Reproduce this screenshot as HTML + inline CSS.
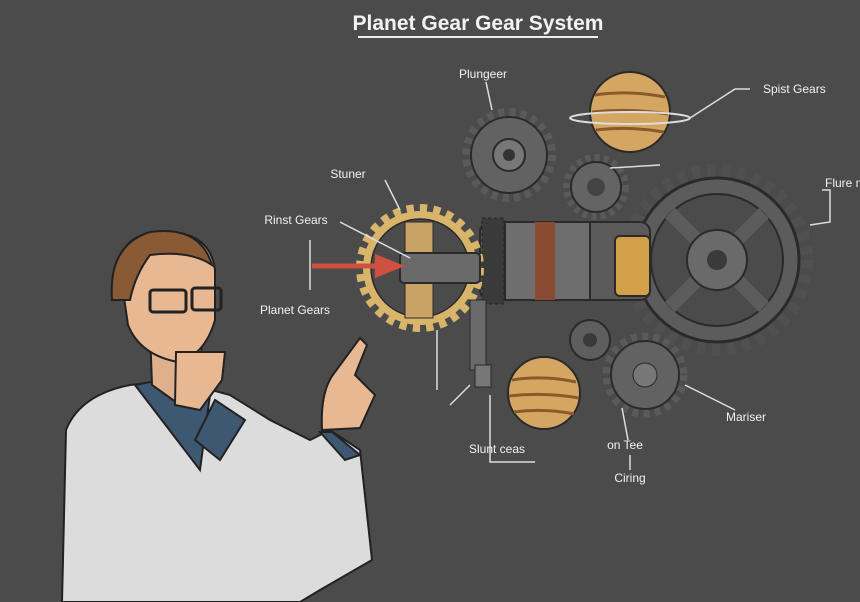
<!DOCTYPE html>
<html><head><meta charset="utf-8"><style>
html,body{margin:0;padding:0;background:#4b4b4b;}
svg{display:block}
text{font-family:"Liberation Sans",sans-serif;fill:#f2f2f2}
</style></head><body>
<svg width="860" height="602" viewBox="0 0 860 602" xmlns="http://www.w3.org/2000/svg">
<rect width="860" height="602" fill="#4b4b4b"/>
<text x="478" y="30" font-size="21" text-anchor="middle" font-weight="bold">Planet Gear Gear System</text>
<line x1="358" y1="37" x2="598" y2="37" stroke="#eee" stroke-width="2"/>

<!-- big gear right -->
<circle cx="717" cy="260" r="88" fill="none" stroke="#505050" stroke-width="16" stroke-dasharray="8 7"/>
<circle cx="717" cy="260" r="82" fill="#5c5c5c" stroke="#2a2a2a" stroke-width="3"/>
<circle cx="717" cy="260" r="66" fill="#4b4b4b" stroke="#2a2a2a" stroke-width="2"/>
<g stroke="#5c5c5c" stroke-width="14"><line x1="670" y1="213" x2="764" y2="307"/><line x1="764" y1="213" x2="670" y2="307"/></g>
<circle cx="717" cy="260" r="30" fill="#6a6a6a" stroke="#2a2a2a" stroke-width="2"/>
<circle cx="717" cy="260" r="10" fill="#3a3a3a"/>

<!-- top gear -->
<circle cx="509" cy="155" r="42" fill="none" stroke="#5a5a5a" stroke-width="10" stroke-dasharray="6 5"/>
<circle cx="509" cy="155" r="38" fill="#626262" stroke="#2a2a2a" stroke-width="2"/>
<circle cx="509" cy="155" r="16" fill="#777" stroke="#2a2a2a" stroke-width="2"/>
<circle cx="509" cy="155" r="6" fill="#333"/>
<!-- small gear -->
<circle cx="596" cy="187" r="29" fill="none" stroke="#5a5a5a" stroke-width="8" stroke-dasharray="5 4"/>
<circle cx="596" cy="187" r="25" fill="#646464" stroke="#2a2a2a" stroke-width="2"/>
<circle cx="596" cy="187" r="9" fill="#444"/>

<!-- planet top -->
<circle cx="630" cy="112" r="40" fill="#d5a662" stroke="#2a2a2a" stroke-width="2"/>
<g stroke="#8a5a2a" stroke-width="3" fill="none"><path d="M595 95 Q630 90 665 97"/><path d="M592 112 Q630 108 668 114"/><path d="M596 130 Q630 126 664 132"/></g>
<ellipse cx="630" cy="118" rx="60" ry="6" fill="none" stroke="#ddd" stroke-width="2"/>

<!-- cylinder -->
<rect x="480" y="222" width="170" height="78" rx="10" fill="#5a5a5a" stroke="#2a2a2a" stroke-width="2"/>
<rect x="505" y="222" width="85" height="78" fill="#6e6e6e" stroke="#2a2a2a" stroke-width="2"/>
<rect x="535" y="222" width="20" height="78" fill="#8b4a32"/>
<rect x="615" y="236" width="35" height="60" rx="5" fill="#d3a04a" stroke="#2a2a2a" stroke-width="2"/>
<rect x="482" y="218" width="22" height="86" fill="#3a3a3a" stroke="#222" stroke-dasharray="3 3"/>

<!-- golden gear -->
<circle cx="420" cy="268" r="58" fill="none" stroke="#d8b56a" stroke-width="12" stroke-dasharray="7 6"/>
<circle cx="420" cy="268" r="53" fill="none" stroke="#d8b56a" stroke-width="8"/>
<circle cx="420" cy="268" r="49" fill="none" stroke="#2a2a2a" stroke-width="1.5"/>
<rect x="405" y="222" width="28" height="96" fill="#c9a366" stroke="#2a2a2a"/>
<rect x="400" y="253" width="80" height="30" rx="4" fill="#6a6a6a" stroke="#2a2a2a" stroke-width="2"/>
<line x1="312" y1="266" x2="378" y2="266" stroke="#d05040" stroke-width="5"/>
<polygon points="375,254 405,266 375,278" fill="#d05040"/>

<!-- lower parts -->
<rect x="470" y="300" width="16" height="70" fill="#6a6a6a" stroke="#2a2a2a"/>
<rect x="475" y="365" width="16" height="22" fill="#777" stroke="#2a2a2a"/>
<circle cx="590" cy="340" r="20" fill="#5e5e5e" stroke="#2a2a2a" stroke-width="2"/>
<circle cx="590" cy="340" r="7" fill="#3a3a3a"/>
<circle cx="645" cy="375" r="38" fill="none" stroke="#5a5a5a" stroke-width="9" stroke-dasharray="6 5"/>
<circle cx="645" cy="375" r="34" fill="#626262" stroke="#2a2a2a" stroke-width="2"/>
<circle cx="645" cy="375" r="12" fill="#777" stroke="#2a2a2a"/>
<circle cx="544" cy="393" r="36" fill="#d5a662" stroke="#2a2a2a" stroke-width="2"/>
<g stroke="#8a5a2a" stroke-width="3" fill="none"><path d="M512 380 Q544 375 576 382"/><path d="M509 396 Q544 392 579 398"/><path d="M514 412 Q544 408 574 414"/></g>

<!-- leader lines -->
<g stroke="#ddd" stroke-width="1.5" fill="none">
<line x1="486" y1="82" x2="492" y2="110"/>
<path d="M750 89 L735 89 L690 118"/>
<path d="M385 180 L400 210"/>
<path d="M822 190 L830 190 L830 222 L810 225"/>
<line x1="340" y1="222" x2="410" y2="258"/>
<line x1="310" y1="240" x2="310" y2="290"/>
<line x1="437" y1="330" x2="437" y2="390"/>
<path d="M490 395 L490 462 L535 462"/>
<line x1="450" y1="405" x2="470" y2="385"/>
<line x1="735" y1="410" x2="685" y2="385"/>
<line x1="628" y1="440" x2="622" y2="408"/>
<line x1="630" y1="470" x2="630" y2="455"/>
<line x1="610" y1="168" x2="660" y2="165"/>
</g>

<text x="483" y="78" font-size="12" text-anchor="middle">Plungeer</text>
<text x="763" y="93" font-size="12">Spist Gears</text>
<text x="348" y="178" font-size="12" text-anchor="middle">Stuner</text>
<text x="825" y="187" font-size="12">Flure n</text>
<text x="296" y="224" font-size="12" text-anchor="middle">Rinst Gears</text>
<text x="295" y="314" font-size="12" text-anchor="middle">Planet Gears</text>
<text x="746" y="421" font-size="12" text-anchor="middle">Mariser</text>
<text x="497" y="453" font-size="12" text-anchor="middle">Slunt ceas</text>
<text x="625" y="449" font-size="12" text-anchor="middle">on Tee</text>
<text x="630" y="482" font-size="12" text-anchor="middle">Ciring</text>

<!-- person -->
<g stroke="#222" stroke-width="2">
<path d="M62 602 L66 430 Q80 395 130 385 L175 380 L230 395 L270 420 L310 440 L330 430 L360 450 L372 560 L320 590 L300 602 Z" fill="#dcdcdc"/>
<path d="M135 385 L170 378 L210 395 L200 470 Z" fill="#3f5872"/>
<path d="M320 432 L332 432 L360 455 L345 460 Z" fill="#3f5872"/>
<path d="M150 330 L152 385 L180 405 L205 385 L200 335 Z" fill="#e0b08c"/>
<path d="M120 270 Q118 235 160 232 Q210 230 215 270 L215 320 Q205 355 178 362 Q140 355 128 325 Z" fill="#e7b892"/>
<path d="M112 300 Q108 245 150 232 Q200 225 212 265 Q190 250 150 255 Q135 275 130 300 Z" fill="#8a5a34"/>
<rect x="150" y="290" width="36" height="22" rx="3" fill="none" stroke-width="3"/>
<rect x="192" y="288" width="29" height="22" rx="3" fill="none" stroke-width="3"/>
<path d="M176 352 L225 352 L222 380 L200 410 L175 405 Z" fill="#e7b892"/>
<path d="M322 430 Q320 390 335 372 L360 338 L367 345 L355 375 L375 395 L360 428 Z" fill="#e7b892"/>
<path d="M195 440 L215 400 L245 420 L220 460 Z" fill="#3f5872"/>
</g>
</svg>
</body></html>
